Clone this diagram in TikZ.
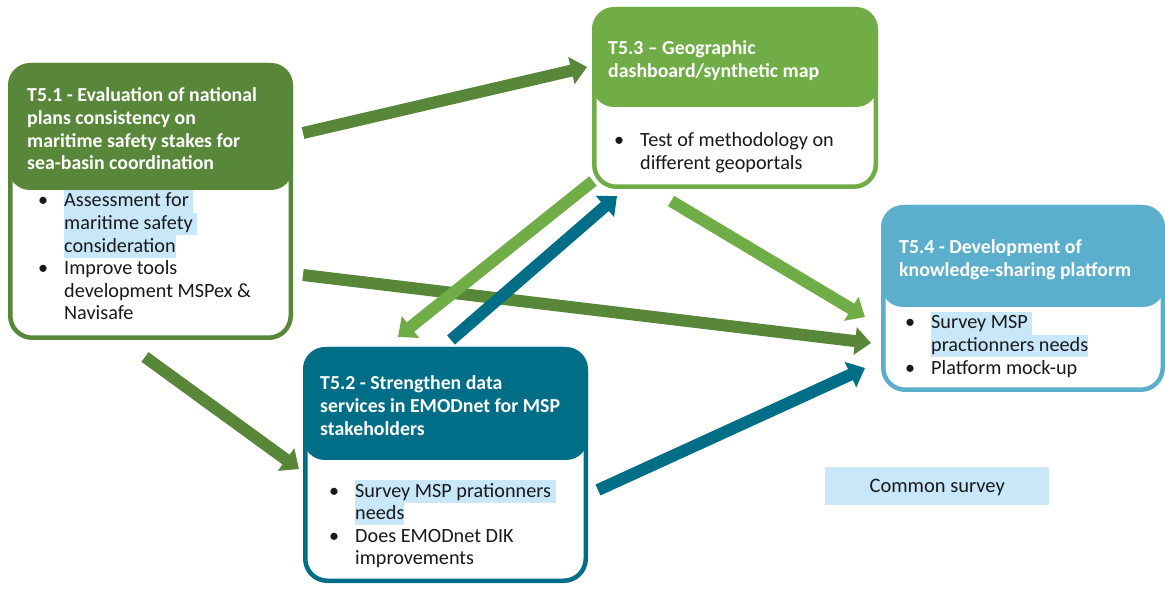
\documentclass[tikz,border=0pt]{standalone}
\usepackage{fontspec}
\setmainfont{Carlito}
\usetikzlibrary{arrows.meta,calc}
\definecolor{dkgreen}{RGB}{88,135,58}
\definecolor{ltgreen}{RGB}{112,173,71}
\definecolor{tealc}{RGB}{0,110,135}
\definecolor{ltblue}{RGB}{91,175,204}
\definecolor{hlblue}{RGB}{200,232,250}
\definecolor{bodytext}{RGB}{25,25,25}
\newcommand\hlt[1]{{\setlength\fboxsep{0pt}\colorbox{hlblue}{\rule[-5.6pt]{0pt}{22.6pt}#1}}}
\newcommand\bul{\makebox[26pt][l]{\textbullet}}
\newcommand\ind{\hspace*{26pt}}
\newcommand\blk[1]{\parbox[t]{420pt}{\raggedright #1}}
\tikzset{
  frame/.style={draw=#1, line width=4.5pt, fill=white, rounded corners=22pt,
    anchor=north west, inner sep=0pt},
  header/.style={fill=#1, rounded corners=22pt, anchor=north west, inner sep=0pt, outer sep=0pt},
  titletext/.style={anchor=base west, inner sep=0pt, text=white,
    font=\fontsize{19.8}{22.6}\selectfont\bfseries},
  bodytxt/.style={anchor=base west, inner sep=0pt, text=bodytext,
    font=\fontsize{20.2}{22.6}\selectfont},
  flow/.style={draw=#1, line width=12pt, -{Triangle[width=27pt,length=16pt]}},
}
\begin{document}
\begin{tikzpicture}[x=1pt,y=-1pt]
\useasboundingbox (0,0) rectangle (1165,593);

% T5.1
\node[frame=dkgreen, minimum width=280.5pt, minimum height=272.5pt] (b1) at (8,63) {};
\node[header=dkgreen, minimum width=285pt, minimum height=127pt] (h1) at (8,63) {};
\node[titletext] (t1) at (27,102) {\blk{T5.1 - Evaluation of national\\ plans consistency on\\ maritime safety stakes for\\ sea-basin coordination}};
\node[bodytxt] (l1) at (38,207) {\blk{\bul\hlt{Assessment for }\\ \ind\hlt{maritime safety }\\ \ind\hlt{consideration}\\ \bul Improve tools\\ \ind development MSPex \&\\ \ind Navisafe}};

% T5.3
\node[frame=ltgreen, minimum width=281.5pt, minimum height=177.5pt] (b3) at (592,7) {};
\node[header=ltgreen, minimum width=286pt, minimum height=100pt] (h3) at (592,7) {};
\node[titletext] (t3) at (608,55) {\blk{T5.3 – Geographic\\ dashboard/synthetic map}};
\node[bodytxt] (l3) at (614,147) {\blk{\bul Test of methodology on\\ \ind different geoportals}};

% T5.4
\node[frame=ltblue, minimum width=279.5pt, minimum height=182.5pt] (b4) at (881,205) {};
\node[header=ltblue, minimum width=284pt, minimum height=102pt] (h4) at (881,205) {};
\node[titletext] (t4) at (899,254) {\blk{T5.4 - Development of\\ knowledge-sharing platform}};
\node[bodytxt] (l4) at (905,329) {\blk{\bul\hlt{Survey MSP }\\ \ind\hlt{practionners needs}\\ \bul Platform mock-up}};

% T5.2
\node[frame=tealc, minimum width=280.5pt, minimum height=231.5pt] (b2) at (303,347) {};
\node[header=tealc, minimum width=285pt, minimum height=113pt] (h2) at (303,347) {};
\node[titletext] (t2) at (320,390) {\blk{T5.2 - Strengthen data\\ services in EMODnet for MSP\\ stakeholders}};
\node[bodytxt] (l2) at (329,497) {\blk{\bul\hlt{Survey MSP prationners }\\ \ind\hlt{needs}\\ \bul Does EMODnet DIK\\ \ind improvements}};

% Common survey
\node[fill=hlblue, minimum width=224pt, minimum height=38pt, inner sep=0pt, anchor=north west,
  text depth=0pt, text=bodytext, font=\fontsize{20.5}{22}\selectfont] (cs) at (825,467) {Common survey};

% Arrows
\draw[flow=dkgreen] ($(b1.north east)+(10,212)$) -- ($(b4.north west)+(-10,138)$);
\draw[flow=dkgreen] ($(b1.north east)+(10,70)$) -- ($(b3.north west)+(-5,60)$);
\draw[flow=dkgreen] ($(b1.south west)+(137,17)$) -- ($(b2.north west)+(-4,122)$);
\draw[flow=ltgreen] ($(b3.south west)+(1,-8)$) -- ($(b2.north west)+(95,-10)$);
\draw[flow=tealc] ($(b2.north west)+(148,-7)$) -- ($(b3.south west)+(25,7)$);
\draw[flow=ltgreen] ($(b3.south west)+(79,12)$) -- ($(b4.north west)+(-16,112)$);
\draw[flow=tealc] ($(b2.north east)+(10,143)$) -- ($(b4.north west)+(-16,163)$);
\end{tikzpicture}
\end{document}
